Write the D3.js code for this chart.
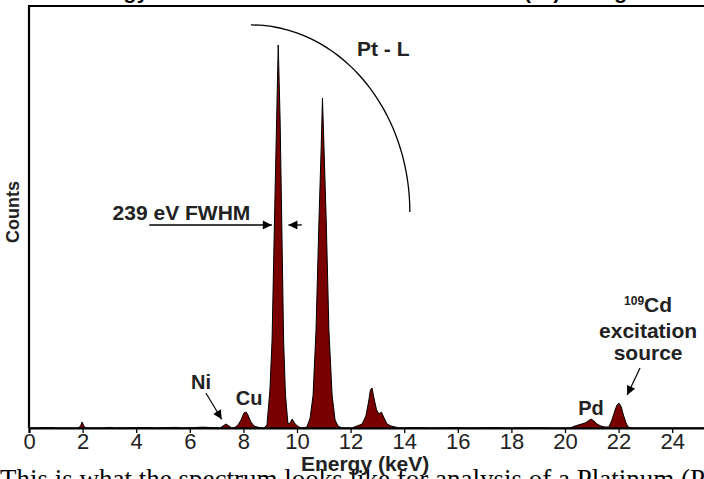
<!DOCTYPE html>
<html><head><meta charset="utf-8">
<script src="https://cdn.jsdelivr.net/npm/d3@7"></script>
<style>body{margin:0;background:#fff;overflow:hidden}</style>
</head><body><svg id="c" width="704" height="479"></svg>
<script>
// ---- data ----
const energyKeV = [0,0.9,1.0,1.85,1.93,1.98,2.04,2.1,2.8,3.0,3.2,4.5,4.7,5.5,5.7,6.2,6.5,6.8,
  7.13,7.24,7.35,7.46,7.57,7.65,7.80,7.91,8.02,8.10,8.17,8.28,8.40,8.51,8.69,
  8.77,8.88,8.99,9.07,9.16,9.24,9.30,9.37,9.43,9.50,9.57,9.66,9.72,9.78,9.82,9.88,9.93,10.07,10.2,
  10.37,10.49,10.60,10.71,10.82,10.90,10.95,11.01,11.09,11.19,11.31,11.42,11.53,11.68,
  12.05,12.24,12.43,12.57,12.67,12.74,12.80,12.87,12.97,13.06,13.15,13.25,13.36,13.51,13.66,13.84,
  14.5,15.0,16.0,16.3,17.5,17.8,19.0,19.5,
  20.19,20.37,20.56,20.75,20.86,20.97,21.08,21.19,21.34,21.49,21.64,21.75,21.87,21.94,22.01,22.10,22.18,22.28,22.35,22.50,26];
const counts = [0,10,0,0,60,140,60,0,0,15,0,12,0,15,0,12,20,10,
  0,47,95,47,0,0,71,190,355,379,308,142,47,24,0,
  0,71,900,2085,4929,7300,9076,7300,4929,2085,780,118,100,165,213,150,95,24,0,
  24,237,780,2322,4929,6588,7820,6588,4929,2322,780,190,47,0,
  0,47,95,284,616,900,948,711,427,332,379,237,95,47,24,0,
  10,0,10,0,10,0,8,0,
  0,47,83,118,166,213,166,95,47,24,24,190,427,545,592,498,308,118,24,0,0];
const xTicks = [0,2,4,6,8,10,12,14,16,18,20,22,24];
const xDomain = [0,26];
const yDomain = [0,10000];
const peakLabels = ["Ni","Cu","Pd"];
const peakLabelKeV = [6.42,8.21,20.97];
const peakLabelCounts = [936,545,308];
const titleText = "Energy Resolution Obtained with Platinum (Pt) Using";
const captionText = "This is what the spectrum looks like for analysis of a Platinum (Pt) in";

// ---- drawing ----
const svg = d3.select("#c");
const x = d3.scaleLinear().domain(xDomain).range([29, 29 + 26*26.8]);
const y = d3.scaleLinear().domain(yDomain).range([428, 6]);
const sans = "'Liberation Sans', Arial, Helvetica, sans-serif";

const defs = svg.append("defs");
defs.append("marker").attr("id","ah").attr("viewBox","0 0 10 10")
  .attr("refX",10).attr("refY",5).attr("markerWidth",12).attr("markerHeight",9)
  .attr("markerUnits","userSpaceOnUse").attr("orient","auto")
  .append("path").attr("d","M0,0L10,5L0,10Z").attr("fill","#000");

// title (cut off at top)
svg.append("text").attr("x",75).attr("y",-1).attr("font-family",sans)
  .attr("font-weight","bold").attr("font-size",21).attr("letter-spacing",0.45).text(titleText);

const data = energyKeV.map((e,i)=>({e, c: counts[i]}));
const area = d3.area().x(d=>x(d.e)).y0(y(0)).y1(d=>y(d.c));
svg.append("path").datum(data).attr("d",area)
  .attr("fill","#7a0000").attr("stroke","#000").attr("stroke-width",1).attr("stroke-linejoin","round");

// frame
svg.append("path")
  .attr("d",`M${x(0)},${y(0)}V${y(10000)}H${x(26)}`)
  .attr("fill","none").attr("stroke","#000").attr("stroke-width",2.2);

// x axis
const xAxis = d3.axisBottom(x).tickValues(xTicks).tickSize(5).tickPadding(0).tickFormat(d3.format("d"));
const gx = svg.append("g").attr("transform",`translate(0,${y(0)})`).call(xAxis);
gx.select(".domain").attr("stroke-width",2.2);
gx.selectAll(".tick line").attr("stroke-width",1.3);
gx.selectAll("text").attr("font-family",sans).attr("font-size",22).attr("fill","#222");

// caption below (cut off)
svg.append("text").attr("x",0).attr("y",488).attr("font-family","'Liberation Serif','Times New Roman',serif")
  .attr("font-size",27).attr("fill","#000").text(captionText);

svg.append("text").attr("x",x(12.54)).attr("y",471).attr("text-anchor","middle")
  .attr("font-family",sans).attr("font-weight","bold").attr("font-size",21).attr("fill","#222")
  .text("Energy (keV)");
svg.append("text").attr("transform",`translate(19,212) rotate(-90)`).attr("text-anchor","middle")
  .attr("font-family",sans).attr("font-weight","bold").attr("font-size",18).attr("fill","#222")
  .text("Counts");

// Pt-L arc (quarter ellipse)
const arcT = d3.range(0, 91, 3).map(a=>a*Math.PI/180);
const cx = 8.28, cy = 5119, rx = 5.93, ry = 4432;
svg.append("path").datum(arcT)
  .attr("d", d3.line().x(t=>x(cx + rx*Math.sin(t))).y(t=>y(cy + ry*Math.cos(t))).curve(d3.curveCatmullRom))
  .attr("fill","none").attr("stroke","#000").attr("stroke-width",1.3);
svg.append("text").attr("x",x(12.24)).attr("y",y(8815)).attr("font-family",sans)
  .attr("font-weight","bold").attr("font-size",21).attr("fill","#222").text("Pt - L");

// FWHM
svg.append("text").attr("x",x(3.12)).attr("y",y(4930)).attr("font-family",sans)
  .attr("font-weight","bold").attr("font-size",21).attr("fill","#222").text("239 eV FWHM");
svg.append("line").attr("x1",x(4.49)).attr("x2",x(9.06)).attr("y1",y(4811)).attr("y2",y(4811))
  .attr("stroke","#000").attr("stroke-width",1.3).attr("marker-end","url(#ah)");
svg.append("line").attr("x1",x(10.18)).attr("x2",x(9.68)).attr("y1",y(4811)).attr("y2",y(4811))
  .attr("stroke","#000").attr("stroke-width",1.3).attr("marker-end","url(#ah)");

// peak labels
svg.selectAll(".pl").data(peakLabels).enter().append("text")
  .attr("x",(d,i)=>x(peakLabelKeV[i])).attr("y",(d,i)=>y(peakLabelCounts[i]))
  .attr("text-anchor","middle").attr("font-family",sans).attr("font-weight","bold")
  .attr("font-size",20).attr("fill","#222").text(d=>d);
// Ni arrow
svg.append("line").attr("x1",x(6.60)).attr("y1",y(830)).attr("x2",x(7.19)).attr("y2",y(206))
  .attr("stroke","#000").attr("stroke-width",1.2).attr("marker-end","url(#ah)");

// Cd source
const cdT = svg.append("text").attr("x",x(23.10)).attr("y",y(2749)).attr("text-anchor","middle")
  .attr("font-family",sans).attr("font-weight","bold").attr("font-size",21).attr("fill","#222");
cdT.append("tspan").attr("font-size",12).attr("dy",-7).text("109");
cdT.append("tspan").attr("dy",7).text("Cd");
svg.append("text").attr("x",x(23.10)).attr("y",y(2133)).attr("text-anchor","middle")
  .attr("font-family",sans).attr("font-weight","bold").attr("font-size",21).attr("fill","#222").text("excitation");
svg.append("text").attr("x",x(23.10)).attr("y",y(1600)).attr("text-anchor","middle")
  .attr("font-family",sans).attr("font-weight","bold").attr("font-size",21).attr("fill","#222").text("source");
svg.append("line").attr("x1",x(22.80)).attr("y1",y(1422)).attr("x2",x(22.32)).attr("y2",y(782))
  .attr("stroke","#000").attr("stroke-width",1.2).attr("marker-end","url(#ah)");
</script></body></html>
